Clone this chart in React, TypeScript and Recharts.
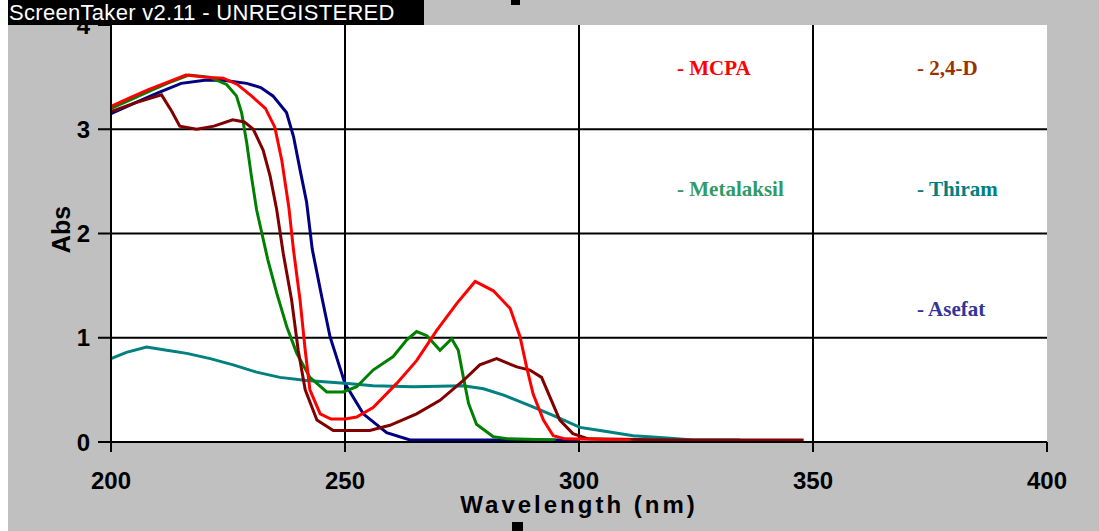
import { LineChart, Line, XAxis, YAxis, CartesianGrid, Legend } from 'recharts'

const xTicks = [200, 250, 300, 350, 400]
const yTicks = [0, 1, 2, 3, 4]
const gridX = [250, 300, 350]
const gridY = [1, 2, 3]

// [wavelength nm, absorbance]
const asefat: [number, number][] = [
  [200, 3.15], [205, 3.25], [210, 3.35], [215, 3.44], [220, 3.47], [224, 3.47],
  [229, 3.44], [232, 3.4], [234.6, 3.32], [237.5, 3.16], [239, 2.93], [240.4, 2.61],
  [241.8, 2.3], [243, 1.85], [245, 1.4], [246.8, 1.01], [250, 0.56], [253.9, 0.27],
  [258.9, 0.09], [263.9, 0.02], [300, 0.02],
]

const thiram: [number, number][] = [
  [200, 0.8], [203.3, 0.86], [207.6, 0.91], [211.9, 0.88], [216.2, 0.85], [221.2, 0.8],
  [226.1, 0.74], [231.1, 0.67], [236.1, 0.62], [241.8, 0.59], [250.6, 0.56], [256, 0.54],
  [264.6, 0.53], [275.3, 0.54], [279.6, 0.51], [283.9, 0.45], [289.5, 0.35], [295.2, 0.24],
  [300.2, 0.14], [304.5, 0.11], [311.6, 0.06], [318, 0.04], [324.4, 0.02], [334.4, 0.02],
]

const metalaksil: [number, number][] = [
  [200, 3.2], [204, 3.28], [208, 3.36], [212, 3.44], [216.6, 3.52], [221, 3.5],
  [224.7, 3.43], [226.8, 3.32], [227.9, 3.16], [229, 2.87], [230, 2.55], [231.1, 2.23],
  [232.5, 1.95], [233.5, 1.75], [235.4, 1.43], [237.6, 1.1], [239.7, 0.85], [242.5, 0.62],
  [246.1, 0.48], [249.6, 0.48], [252.5, 0.53], [256, 0.69], [260.3, 0.82], [263.2, 0.98],
  [265.3, 1.06], [267.5, 1.02], [270.3, 0.88], [272.8, 0.99], [274.2, 0.88], [275.3, 0.62],
  [276.4, 0.37], [278.1, 0.17], [281.7, 0.05], [285, 0.03], [295, 0.02],
]

const d24: [number, number][] = [
  [200, 3.17], [205, 3.25], [210.8, 3.33], [213, 3.17], [214.7, 3.03], [218.3, 3.0],
  [222, 3.03], [226, 3.09], [228.5, 3.07], [230.4, 3.0], [232.5, 2.8], [234, 2.55],
  [235.4, 2.23], [236.8, 1.81], [238.6, 1.36], [240, 0.88], [241.5, 0.5], [244, 0.21],
  [247.5, 0.11], [255.3, 0.11], [259.6, 0.16], [265.3, 0.27], [270.3, 0.4], [275.3, 0.59],
  [278.8, 0.74], [282.4, 0.8], [286.7, 0.72], [289.5, 0.69], [292, 0.62], [293.8, 0.43],
  [295.9, 0.21], [298.7, 0.08], [302, 0.03], [320, 0.02], [348, 0.02],
]

const mcpa: [number, number][] = [
  [200, 3.22], [204, 3.3], [208, 3.38], [212, 3.45], [216, 3.52], [220, 3.5],
  [224, 3.49], [227, 3.43], [230, 3.32], [233, 3.2], [235, 3.02], [236.5, 2.7],
  [238, 2.25], [239, 1.84], [240.4, 1.36], [241.5, 0.88], [242.5, 0.5], [244.7, 0.27],
  [247, 0.22], [250, 0.22], [252.5, 0.24], [256, 0.33], [261, 0.56], [265.3, 0.78],
  [269.6, 1.07], [273.9, 1.33], [277.8, 1.54], [281.7, 1.45], [285.3, 1.28], [287.4, 1.01],
  [288.8, 0.72], [290.2, 0.46], [292.4, 0.21], [294.5, 0.06], [297, 0.03], [311, 0.02],
]

const series = [
  { name: 'Asefat', points: asefat, stroke: '#000080' },
  { name: 'Thiram', points: thiram, stroke: '#008080' },
  { name: 'Metalaksil', points: metalaksil, stroke: '#008000' },
  { name: '2,4-D', points: d24, stroke: '#800000' },
  { name: 'MCPA', points: mcpa, stroke: '#ff0000' },
]

// legend text placement inside the chart box
const legendItems = [
  { name: 'MCPA', color: '#ff0000', left: 669, top: 58 },
  { name: '2,4-D', color: '#993300', left: 909, top: 58 },
  { name: 'Metalaksil', color: '#339966', left: 669, top: 179 },
  { name: 'Thiram', color: '#008080', left: 909, top: 179 },
  { name: 'Asefat', color: '#333399', left: 909, top: 299 },
]

const W = 1091
const H = 531
const axisFont = { fill: '#000', fontSize: 24, fontWeight: 700, fontFamily: 'Liberation Sans' }

function SpectrumLegend() {
  return (
    <div style={{ position: 'relative', width: W, height: H }}>
      {legendItems.map((item) => (
        <span
          key={item.name}
          style={{
            position: 'absolute',
            left: item.left,
            top: item.top,
            color: item.color,
            font: '700 21px "Liberation Serif"',
            lineHeight: '21px',
            whiteSpace: 'nowrap',
          }}
        >
          - {item.name}
        </span>
      ))}
    </div>
  )
}

export default function App() {
  return (
    <div
      style={{
        position: 'absolute',
        left: 8,
        top: 0,
        width: W,
        height: H,
        background: '#c0c0c0',
        overflow: 'hidden',
      }}
    >
      <LineChart width={W} height={H} margin={{ top: 25, right: 52, bottom: 0, left: 0 }}>
        <CartesianGrid
          fill="#fff"
          fillOpacity={1}
          stroke="#000"
          strokeWidth={2}
          horizontalValues={gridY}
          verticalValues={gridX}
        />
        <XAxis
          dataKey="nm"
          type="number"
          domain={[200, 400]}
          allowDataOverflow
          ticks={xTicks}
          interval={0}
          height={89}
          axisLine={{ stroke: '#000', strokeWidth: 2 }}
          tickLine={{ stroke: '#000', strokeWidth: 2 }}
          tickSize={10}
          tickMargin={20}
          tick={axisFont}
          label={{
            content: (props: any) => {
              const vb = props.viewBox || { x: 103, y: 442, width: 936 }
              return (
                <text
                  x={vb.x + vb.width / 2}
                  y={vb.y + 71}
                  textAnchor="middle"
                  fill="#000"
                  fontSize={24}
                  fontWeight={700}
                  fontFamily="Liberation Sans"
                  letterSpacing={3}
                >
                  Wavelength (nm)
                </text>
              )
            },
          }}
        />
        <YAxis
          type="number"
          domain={[0, 4]}
          ticks={yTicks}
          interval={0}
          width={103}
          axisLine={{ stroke: '#000', strokeWidth: 2 }}
          tickLine={{ stroke: '#000', strokeWidth: 2 }}
          tickSize={13}
          tickMargin={8}
          tick={axisFont}
          label={{
            content: (props: any) => {
              const vb = props.viewBox || { x: 0, y: 25, width: 103, height: 417 }
              const cx = vb.x + 53
              const cy = vb.y + vb.height / 2 - 4
              return (
                <text
                  x={cx}
                  y={cy}
                  transform={`rotate(-90 ${cx} ${cy})`}
                  textAnchor="middle"
                  dominantBaseline="central"
                  fill="#000"
                  fontSize={25}
                  fontWeight={700}
                  fontFamily="Liberation Sans"
                >
                  Abs
                </text>
              )
            },
          }}
        />
        <Legend
          verticalAlign="middle"
          align="center"
          layout="horizontal"
          content={() => <SpectrumLegend />}
          wrapperStyle={{ left: 0, top: 0, width: W, height: H, pointerEvents: 'none' }}
        />
        {series.map((s) => (
          <Line
            key={s.name}
            name={s.name}
            data={s.points.map(([nm, abs]) => ({ nm, abs }))}
            dataKey="abs"
            type="linear"
            stroke={s.stroke}
            strokeWidth={3}
            dot={false}
            activeDot={false}
            isAnimationActive={false}
          />
        ))}
      </LineChart>

      {/* capture-tool title strip and frame handles */}
      <div
        style={{
          position: 'absolute',
          left: 0,
          top: 0,
          width: 415,
          height: 25,
          background: '#000',
          color: '#fff',
          font: '22px "Liberation Sans"',
          lineHeight: '25px',
          letterSpacing: 0.3,
          paddingLeft: 1,
          whiteSpace: 'nowrap',
          overflow: 'hidden',
          zIndex: 2,
        }}
      >
        ScreenTaker v2.11 - UNREGISTERED
      </div>
      <div style={{ position: 'absolute', left: 503, top: 0, width: 9, height: 5, background: '#000' }} />
      <div style={{ position: 'absolute', left: 504, top: 522, width: 11, height: 9, background: '#000' }} />
    </div>
  )
}
